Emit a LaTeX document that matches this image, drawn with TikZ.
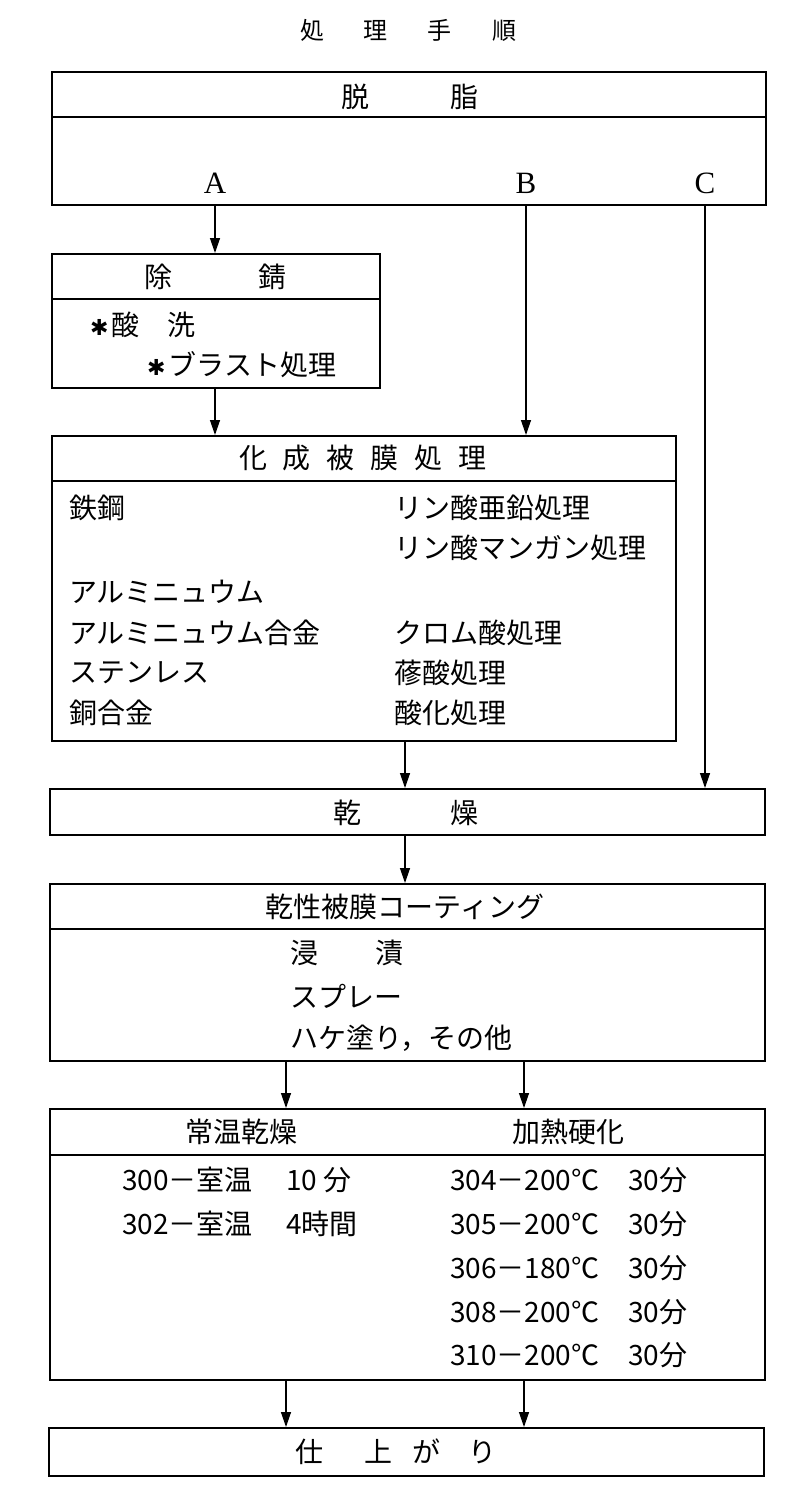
\documentclass[tikz,border=0pt]{standalone}
\usepackage{fontspec}
\setmainfont{Noto Sans CJK JP}
\newfontfamily\latinf{Liberation Serif}
\newfontfamily\djv{DejaVu Sans}
\usetikzlibrary{arrows.meta}
\begin{document}
\begin{tikzpicture}[x=1pt,y=-1pt,
  box/.style={draw, line width=1.9pt, rectangle, inner sep=0pt, anchor=north west},
  lbl/.style={inner sep=0pt, font=\fontsize{28}{30}\selectfont},
  lw/.style={lbl, anchor=west},
  arr/.style={line width=1.3pt, -{Triangle[length=15pt,width=10pt]}},
  divl/.style={line width=1.9pt}]
\useasboundingbox (0,0) rectangle (797,1510);

% title
\node[lbl, font=\fontsize{24}{26}\selectfont] (title) at (408,30) {処\hspace{40pt}理\hspace{40pt}手\hspace{40pt}順};

% boxes
\node[box, minimum width=714pt, minimum height=133pt] (b1) at (51,71) {};
\node[box, minimum width=328pt, minimum height=134pt] (b2) at (51,253) {};
\node[box, minimum width=624pt, minimum height=305pt] (b3) at (51,435) {};
\node[box, minimum width=715pt, minimum height=46pt] (b4) at (49,788) {};
\node[box, minimum width=715pt, minimum height=177pt] (b5) at (49,883) {};
\node[box, minimum width=715pt, minimum height=271pt] (b6) at (49,1108) {};
\node[box, minimum width=715pt, minimum height=48pt] (b7) at (48,1427) {};

% dividers
\coordinate (d1) at (0,117);
\coordinate (d2) at (0,299);
\coordinate (d3) at (0,481);
\coordinate (d5) at (0,929);
\coordinate (d6) at (0,1155);
\draw[divl] (b1.west |- d1) -- (b1.east |- d1);
\draw[divl] (b2.west |- d2) -- (b2.east |- d2);
\draw[divl] (b3.west |- d3) -- (b3.east |- d3);
\draw[divl] (b5.west |- d5) -- (b5.east |- d5);
\draw[divl] (b6.west |- d6) -- (b6.east |- d6);

% arrow x positions
\coordinate (xA) at (215,0);
\coordinate (xB) at (526,0);
\coordinate (xC) at (705,0);
\coordinate (xM) at (405,0);
\coordinate (xL) at (286,0);
\coordinate (xR) at (524,0);

\draw[arr] (b1.south -| xA) -- (b2.north -| xA);
\draw[arr] (b1.south -| xB) -- (b3.north -| xB);
\draw[arr] (b1.south -| xC) -- (b4.north -| xC);
\draw[arr] (b2.south -| xA) -- (b3.north -| xA);
\draw[arr] (b3.south -| xM) -- (b4.north -| xM);
\draw[arr] (b4.south -| xM) -- (b5.north -| xM);
\draw[arr] (b5.south -| xL) -- (b6.north -| xL);
\draw[arr] (b5.south -| xR) -- (b6.north -| xR);
\draw[arr] (b6.south -| xL) -- (b7.north -| xL);
\draw[arr] (b6.south -| xR) -- (b7.north -| xR);

% box 1
\node[lbl] (t1) at (410,97) {脱\hspace{82pt}脂};
\node[lbl, font=\fontsize{31}{33}\latinf] (lA) at (215,183) {A};
\node[lbl, font=\fontsize{31}{33}\latinf] (lB) at (526,183) {B};
\node[lbl, font=\fontsize{31}{33}\latinf] (lC) at (705,183) {C};

% box 2
\node[lbl] (t2) at (215,277) {除\hspace{86pt}錆};
\node[lw] (t2a) at (90,325) {{\djv\fontsize{22}{24}\selectfont ✱}\hspace{3pt}酸　洗};
\node[lw] (t2b) at (147,365) {{\djv\fontsize{22}{24}\selectfont ✱}\hspace{3pt}ブラスト処理};

% box 3
\node[lbl] (t3) at (363,458) {化\hspace{16pt}成\hspace{16pt}被\hspace{16pt}膜\hspace{16pt}処\hspace{16pt}理};
\node[lw] (m1) at (69,508) {鉄鋼};
\node[lw] (m2) at (69,592) {アルミニュウム};
\node[lw] (m3) at (69,633) {アルミニュウム合金};
\node[lw] (m4) at (69,673) {ステンレス};
\node[lw] (m5) at (69,713) {銅合金};
\node[lw] (p1) at (394,508) {リン酸亜鉛処理};
\node[lw] (p2) at (394,548) {リン酸マンガン処理};
\node[lw] (p3) at (394,633) {クロム酸処理};
\node[lw] (p4) at (394,673) {蓚酸処理};
\node[lw] (p5) at (394,713) {酸化処理};

% box 4
\node[lbl] (t4) at (406,813) {乾\hspace{89pt}燥};

% box 5
\node[lbl] (t5) at (405,907) {乾性被膜コーティング};
\node[lw] (c1) at (290,953) {浸\hspace{57pt}漬};
\node[lw] (c2) at (290,996) {スプレー};
\node[lw] (c3) at (290,1038) {ハケ塗り，その他};

% box 6
\node[lbl] (h1) at (241,1132) {常温乾燥};
\node[lbl] (h2) at (568,1132) {加熱硬化};
\node[lw] (r1) at (122,1180) {300－室温};
\node[lw] (r1b) at (286,1180) {10 分};
\node[lw] (r2) at (122,1224) {302－室温};
\node[lw] (r2b) at (286,1224) {4時間};
\node[lw] (s1) at (450,1180) {304－200℃};
\node[lw] (s1b) at (628,1180) {30分};
\node[lw] (s2) at (450,1224) {305－200℃};
\node[lw] (s2b) at (628,1224) {30分};
\node[lw] (s3) at (450,1268) {306－180℃};
\node[lw] (s3b) at (628,1268) {30分};
\node[lw] (s4) at (450,1312) {308－200℃};
\node[lw] (s4b) at (628,1312) {30分};
\node[lw] (s5) at (450,1355) {310－200℃};
\node[lw] (s5b) at (628,1355) {30分};

% box 7
\node[lbl] (t7) at (396,1452) {仕\hspace{41pt}上\hspace{20pt}が\hspace{28pt}り};
\end{tikzpicture}
\end{document}
